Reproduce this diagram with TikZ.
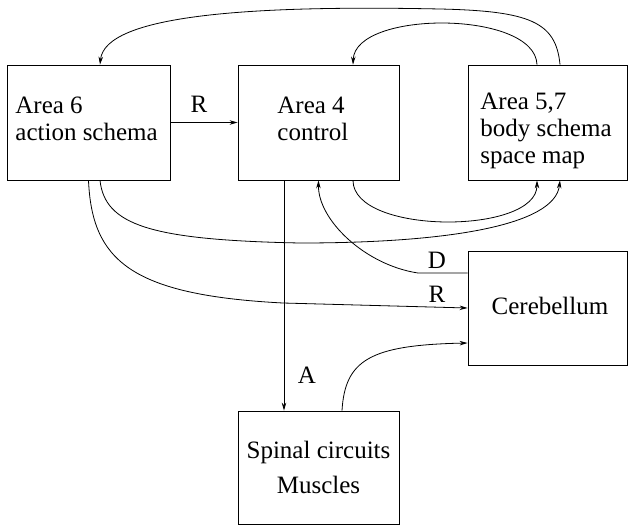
\documentclass[tikz,border=0pt]{standalone}
\usepackage{fontspec}
\setmainfont{Liberation Serif}
\usetikzlibrary{arrows.meta}
\begin{document}
\begin{tikzpicture}[x=1pt, y=-1pt, line width=.8pt,
  box/.style={draw, minimum width=#1, minimum height=115pt, inner sep=0pt},
  txt/.style={font=\fontsize{25}{27}\selectfont, inner sep=0pt, align=left},
  arr/.style={-{Stealth[length=8pt,width=4.5pt]}}]
\useasboundingbox (0,0) rectangle (628,525);

\node[box=163pt] (area6) at (88.5,122.5) {};
\node[box=161pt] (area4) at (318.5,122.5) {};
\node[box=159pt] (area57) at (547.5,122.5) {};
\node[box=159pt, minimum height=114pt] (cereb) at (547.5,308) {};
\node[box=161pt, minimum height=113pt] (spinal) at (318.5,467.5) {};

\node[txt, anchor=base west] (area6txt) at (15,140) {Area 6\\action schema};
\node[txt, anchor=base west] (area4txt) at (277,140) {Area 4\\control};
\node[txt, anchor=base west] (area57txt) at (480,163) {Area 5,7\\body schema\\space map};
\node[txt, anchor=base] (cerebtxt) at (550,314) {Cerebellum};
\node[txt, anchor=base, align=center] (spinaltxt) at (318.5,493) {Spinal circuits\\[8pt]Muscles};

\node[txt, anchor=base] (lblR) at (199,112) {R};
\node[txt, anchor=base] (lblD) at (437,268) {D};
\node[txt, anchor=base] (lblRc) at (437,302) {R};
\node[txt, anchor=base] (lblA) at (307,383) {A};

\path[draw,arr] ([xshift=12.5pt]area57.north) .. controls (556,22) and (530,11) .. (440,9) .. controls (250,5) and (105,15) .. ([xshift=11.5pt]area6.north);
\path[draw,arr] ([xshift=-10.5pt]area57.north) .. controls (535,10) and (355,10) .. ([xshift=34.5pt]area4.north);

\path[draw,arr] (area6.east) -- (area4.west);

\path[draw,arr] ([xshift=34.5pt]area4.south) .. controls (353,235) and (537,235) .. ([xshift=-10.5pt]area57.south);
\path[draw,arr] ([xshift=11.5pt]area6.south) .. controls (105,225) and (150,240) .. (300,243) .. controls (450,243) and (555,225) .. ([xshift=12.5pt]area57.south);

\path[draw,arr] (area6.south) .. controls (92,260) and (130,295) .. (283,303) -- (cereb.west);
\path[draw,arr] ([yshift=35pt]cereb.west) -- (418,273) .. controls (365,265) and (318,220) .. (area4.south);

\path[draw,arr] ([xshift=-34.5pt]area4.south) -- ([xshift=-34.5pt]spinal.north);
\path[draw,arr] ([xshift=23.5pt]spinal.north) .. controls (345,360) and (370,345) .. ([yshift=-35pt]cereb.west);

\end{tikzpicture}
\end{document}
